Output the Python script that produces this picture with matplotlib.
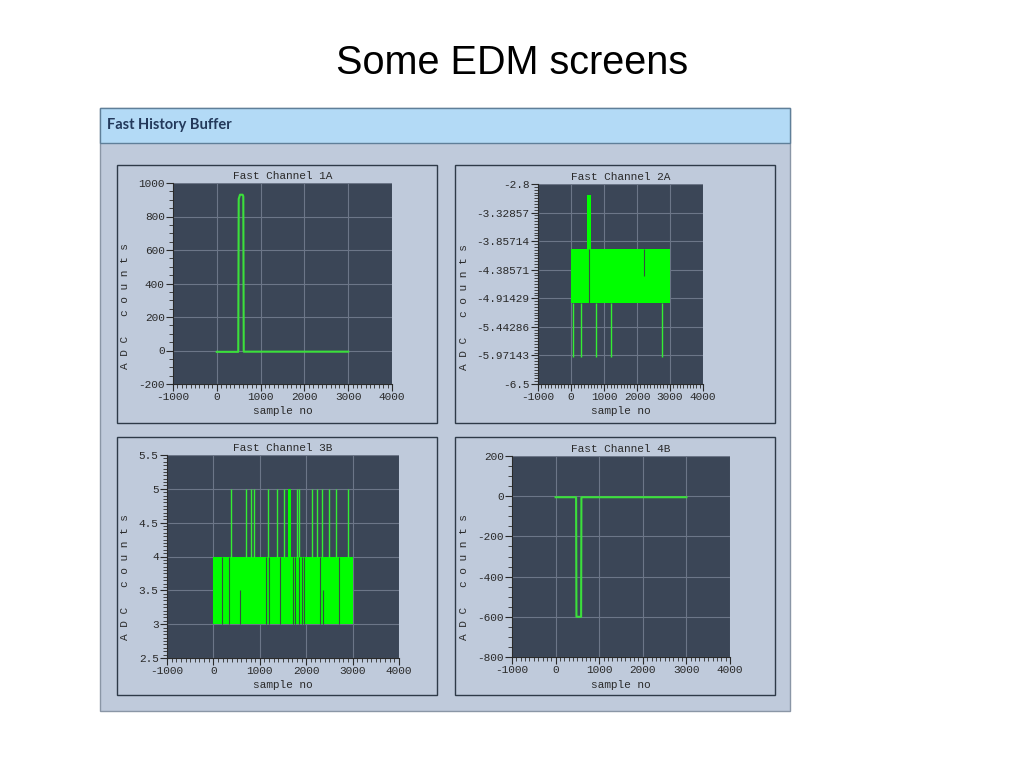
import numpy as np
import matplotlib.pyplot as plt
from matplotlib.patches import Rectangle
from matplotlib.ticker import MultipleLocator, AutoMinorLocator

# ---------------------------
# Style
# ---------------------------
W, H = 1024, 768
PANEL_BG = "#bfcadb"
HEADER_BG = "#b3daf6"
PLOT_BG = "#3b4657"
GRID = "#6c7688"
GREEN = "#00ff00"
LINE_GREEN = "#3be03b"
GAP = "#34503f"
TXT = "#2a2a2a"
FRAME = "#2e3a48"
MONO = ["Liberation Mono", "DejaVu Sans Mono"]

# ---------------------------
# Data
# ---------------------------
X_TICKS = [-1000, 0, 1000, 2000, 3000, 4000]

# channel 1A: flat baseline with one pulse
ch1_x = [0, 490, 500, 530, 590, 605, 615, 3000]
ch1_y = [-8, -8, 905, 930, 930, 920, -7, -7]
ch1_yticks = [-200, 0, 200, 400, 600, 800, 1000]

# channel 2A: samples toggling between -5 and -4
ch2_band_x = [0, 3000]
ch2_band_lo = [-5, -5]
ch2_band_hi = [-4, -4]
ch2_up_x = [495, 620]
ch2_up_top = [-3, -3]
ch2_down_x = [70, 300, 750, 1220, 2770]
ch2_dark_full_x = [545]
ch2_dark_half_x = [2200]
ch2_yticks = [-6.5, -5.97143, -5.44286, -4.91429, -4.38571, -3.85714, -3.32857, -2.8]
ch2_ylabels = ["-6.5", "-5.97143", "-5.44286", "-4.91429", "-4.38571", "-3.85714", "-3.32857", "-2.8"]

# channel 3B: samples toggling between 3 and 4, spikes to 5
ch3_band_x = [0, 3000]
ch3_band_lo = [3, 3]
ch3_band_hi = [4, 4]
ch3_up_x = [385, 701, 815, 866, 1167, 1375, 1526, 1798, 1848, 2135, 2229, 2350, 2494, 2638, 2910]
ch3_up_block = [1597, 1662]
ch3_gap_x = [184, 342, 1131, 1188, 1440, 1705, 1748, 1835, 1906, 1950, 2300, 2709]
ch3_gap_half_x = [565, 2360]
ch3_yticks = [2.5, 3, 3.5, 4, 4.5, 5, 5.5]
ch3_ylabels = ["2.5", "3", "3.5", "4", "4.5", "5", "5.5"]

# channel 4B: flat baseline with one negative pulse
ch4_x = [0, 470, 478, 585, 592, 3000]
ch4_y = [-5, -5, -600, -600, -5, -5]
ch4_yticks = [-800, -600, -400, -200, 0, 200]


def px(x0, y0, x1, y1):
    return [x0 / W, 1 - y1 / H, (x1 - x0) / W, (y1 - y0) / H]


def frame(fig, box, face, edge, lw=1.0, z=-10):
    l, b, w, h = px(*box)
    fig.add_artist(Rectangle((l, b), w, h, transform=fig.transFigure,
                             facecolor=face, edgecolor=edge, linewidth=lw,
                             zorder=z))


def style_axes(ax, title, yticks, ylabels, ylim, yminor, label_pos):
    ax.set_facecolor(PLOT_BG)
    ax.set_xlim(-1000, 4000)
    ax.set_ylim(*ylim)
    ax.set_xticks(X_TICKS)
    ax.set_xticklabels([str(t) for t in X_TICKS])
    ax.set_yticks(yticks)
    ax.set_yticklabels(ylabels)
    ax.xaxis.set_minor_locator(MultipleLocator(100))
    ax.yaxis.set_minor_locator(AutoMinorLocator(yminor))
    ax.tick_params(which="major", direction="out", length=5, width=0.8,
                   color=TXT, labelsize=8, labelcolor=TXT, pad=1)
    ax.tick_params(which="minor", direction="out", length=3, width=0.6, color=TXT)
    for t in ax.get_xticklabels() + ax.get_yticklabels():
        t.set_family(MONO)
    ax.grid(True, which="major", color=GRID, linewidth=0.8)
    ax.set_axisbelow(True)
    ax.spines["top"].set_visible(False)
    ax.spines["right"].set_visible(False)
    ax.spines["left"].set_color(TXT)
    ax.spines["bottom"].set_color(TXT)
    ax.spines["left"].set_linewidth(0.8)
    ax.spines["bottom"].set_linewidth(0.8)
    ax.set_title(title, fontsize=8, family=MONO, color=TXT, pad=3)
    ax.set_xlabel("sample no", fontsize=8, family=MONO, color=TXT, labelpad=3)
    ax.set_ylabel("A D C   c o u n t s", fontsize=8, family=MONO, color=TXT)
    ax.yaxis.set_label_coords(*label_pos)


fig = plt.figure(figsize=(10.24, 7.68), dpi=100)
fig.patch.set_facecolor("white")

fig.text(512 / W, 1 - 63 / H, "Some EDM screens", ha="center", va="center",
         fontsize=28.5, family=["Liberation Sans", "DejaVu Sans"], color="black")

# outer screen + header bar
frame(fig, (100, 108, 790, 711), PANEL_BG, "#8a96a6", 1.0, -12)
frame(fig, (100, 108, 790, 143), HEADER_BG, "#5f7f99", 1.0, -11)
fig.text(107 / W, 1 - 125 / H, "Fast History Buffer", ha="left", va="center",
         fontsize=10.5, fontweight="bold", color="#23395b",
         family=["Lato", "DejaVu Sans"])

# sub-frames
for box in [(117, 165, 437, 423), (455, 165, 775, 423),
            (117, 437, 437, 695), (455, 437, 775, 695)]:
    frame(fig, box, PANEL_BG, FRAME, 1.0, -10)

# ---------------------------
# Fast Channel 1A
# ---------------------------
ax1 = fig.add_axes(px(173, 183, 392, 384))
style_axes(ax1, "Fast Channel 1A", ch1_yticks, [str(t) for t in ch1_yticks],
           (-200, 1000), 4, (-0.198, 0.39))
ax1.plot(ch1_x, ch1_y, color=LINE_GREEN, linewidth=1.5)

# ---------------------------
# Fast Channel 2A
# ---------------------------
ax2 = fig.add_axes(px(538, 184, 703, 384))
style_axes(ax2, "Fast Channel 2A", ch2_yticks, ch2_ylabels,
           (-6.5, -2.8), 10, (-0.419, 0.385))
ax2.fill_between(ch2_band_x, ch2_band_lo, ch2_band_hi, color=GREEN, linewidth=0)
ax2.fill_between(ch2_up_x, ch2_band_hi, ch2_up_top, color=GREEN, linewidth=0)
ax2.vlines(ch2_down_x, -6, -5, color="#33ee33", linewidth=1.0)
ax2.vlines(ch2_dark_full_x, -5, -4, color=GAP, linewidth=0.8)
ax2.vlines(ch2_dark_half_x, -4.5, -4, color=GAP, linewidth=0.8)

# ---------------------------
# Fast Channel 3B
# ---------------------------
ax3 = fig.add_axes(px(167, 455, 399, 658))
style_axes(ax3, "Fast Channel 3B", ch3_yticks, ch3_ylabels,
           (2.5, 5.5), 10, (-0.159, 0.40))
ax3.fill_between(ch3_band_x, ch3_band_lo, ch3_band_hi, color=GREEN, linewidth=0)
ax3.vlines(ch3_up_x, 4, 5, color="#33ee33", linewidth=1.0)
ax3.fill_between(ch3_up_block, [4, 4], [5, 5], color=GREEN, linewidth=0)
ax3.vlines(ch3_gap_x, 3, 4, color=GAP, linewidth=0.8)
ax3.vlines(ch3_gap_half_x, 3, 3.5, color=GAP, linewidth=0.8)

# ---------------------------
# Fast Channel 4B
# ---------------------------
ax4 = fig.add_axes(px(512, 456, 730, 657))
style_axes(ax4, "Fast Channel 4B", ch4_yticks, [str(t) for t in ch4_yticks],
           (-800, 200), 4, (-0.197, 0.40))
ax4.plot(ch4_x, ch4_y, color=LINE_GREEN, linewidth=1.5)

fig.savefig("out.png", dpi=100)
